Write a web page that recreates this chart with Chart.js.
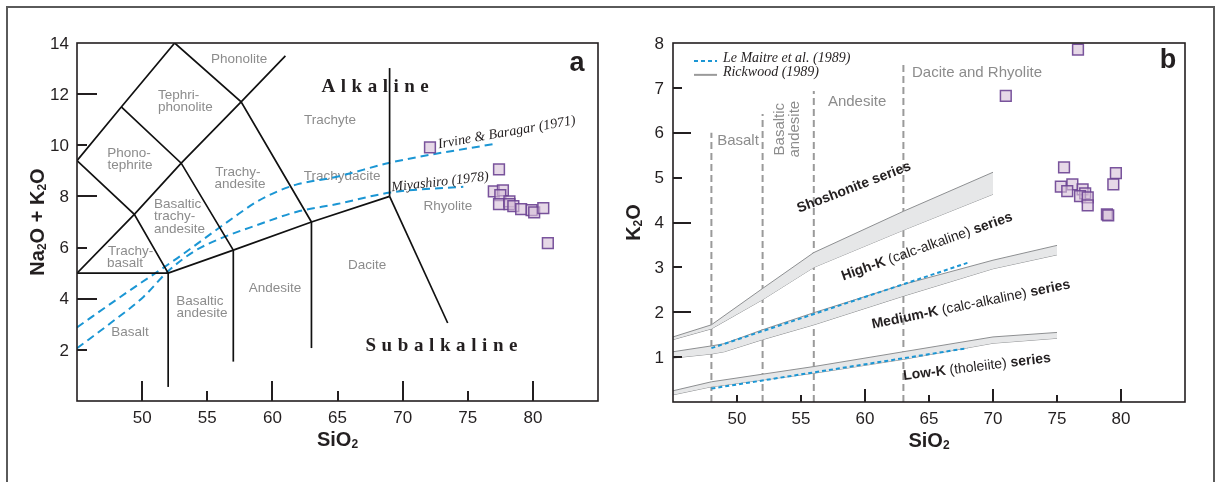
<!DOCTYPE html>
<html>
<head>
<meta charset="utf-8">
<script src="https://cdn.jsdelivr.net/npm/chart.js@4.4.1/dist/chart.umd.min.js"></script>
<style>
  body { margin: 0; background: #fff; }
  #frame { position: absolute; left: 6px; top: 6px; width: 1209px; height: 530px; border: 2px solid #5a5a5a; box-sizing: border-box; }
  #tas { position: absolute; left: 0; top: 0; }
  #kplot { position: absolute; left: 608px; top: 0; }
</style>
</head>
<body>
<div id="frame"></div>
<canvas id="tas" width="608" height="482"></canvas>
<canvas id="kplot" width="609" height="482"></canvas>
<script>
// ---------------- panel a : TAS diagram ----------------
const tasSiO2 = [72.1, 77.4, 77.0, 77.7, 77.5, 77.4, 78.2, 78.2, 78.5, 79.1, 79.9, 80.1, 80.8, 81.15];
const tasAlk  = [9.92, 9.06, 8.20, 8.24, 8.05, 7.70, 7.81, 7.70, 7.62, 7.50, 7.46, 7.38, 7.54, 6.17];

// Irvine & Baragar (1971) and Miyashiro (1978) dividing curves
const ibSiO2 = [45, 48.84, 52.68, 57.03, 58.82, 60.36, 61.89, 64.96, 69.03, 76.96];
const ibAlk  = [2.88, 4.25, 5.58, 7.18, 7.80, 8.19, 8.47, 8.77, 9.32, 10.05];
const miySiO2 = [45, 47.56, 50.12, 51.96, 53.96, 55.75, 58.82, 61.89, 64.96, 69.03, 74.66];
const miyAlk  = [2.06, 3.04, 4.08, 5.06, 5.84, 6.30, 6.88, 7.40, 7.70, 8.15, 8.38];

// field boundaries (Le Bas et al. 1986), each one a polyline [SiO2, Na2O+K2O]
const tasBoundaries = [
  [[45, 9.4], [48.4, 11.5], [52.5, 14]],
  [[52.5, 14], [57.6, 11.7], [63, 7]],
  [[45, 5], [49.4, 7.3], [53, 9.3], [57.6, 11.7], [61, 13.5]],
  [[45, 9.4], [49.4, 7.3], [52, 5]],
  [[48.4, 11.5], [53, 9.3], [57, 5.9]],
  [[45, 5], [52, 5], [57, 5.9], [63, 7], [69, 8]],
  [[52, 0.55], [52, 5]],
  [[57, 1.54], [57, 5.9]],
  [[63, 2.07], [63, 7]],
  [[69, 8], [69, 13.02]],
  [[69, 8], [73.46, 3.05]]
];
const tasXTicks = [50, 55, 60, 65, 70, 75, 80];
const tasYTicks = [2, 4, 6, 8, 10, 12, 14];

// ---------------- panel b : K2O vs SiO2 ----------------
const kSiO2 = [76.64, 71.0, 75.55, 79.6, 79.4, 75.3, 76.2, 75.8, 77.0, 77.2, 76.8, 77.4, 77.4, 78.9, 79.0];
const kK2O  = [7.85, 6.82, 5.23, 5.10, 4.85, 4.80, 4.85, 4.70, 4.74, 4.65, 4.59, 4.56, 4.38, 4.18, 4.16];

// Rickwood (1989) boundary bands
const shoX     = [45, 48, 52, 56, 63, 70];
const shoUpper = [1.45, 1.72, 2.53, 3.33, 4.25, 5.12];
const shoLower = [1.39, 1.63, 2.28, 3.00, 3.83, 4.63];
const hkX      = [45, 48, 49, 52, 56, 63, 70, 75];
const hkUpper  = [1.12, 1.25, 1.30, 1.61, 1.99, 2.62, 3.16, 3.49];
const hkLower  = [0.98, 1.07, 1.12, 1.39, 1.72, 2.36, 2.97, 3.28];
const lkX      = [45, 48, 56, 63, 70, 75];
const lkUpper  = [0.25, 0.45, 0.79, 1.12, 1.45, 1.55];
const lkLower  = [0.16, 0.34, 0.64, 0.95, 1.31, 1.42];

// Le Maitre et al. (1989) lines
const lmX    = [48, 68];
const lmHigh = [1.2, 3.1];
const lmLow  = [0.3, 1.2];

// rock name dividers
const fieldX   = [48, 52, 56, 63];
const fieldTop = [6.0, 6.42, 6.93, 7.6];

const kXTicks = [50, 55, 60, 65, 70, 75, 80];
const kYTicks = [1, 2, 3, 4, 5, 6, 7, 8];


const SANS = '"Liberation Sans", Arial, sans-serif';
const SERIF = '"Liberation Serif", "Times New Roman", serif';
const GREY_TXT = '#8c8c8c';
const PT_FILL = 'rgba(214, 192, 216, 0.62)';
const PT_LINE = 'rgba(108, 66, 146, 0.9)';
const BLUE = '#1b96d4';

function toPts(xs, ys) {
  return xs.map((x, i) => ({ x: x, y: ys[i] }));
}

function lineSet(points, color, width, dash, extra) {
  return Object.assign({
    type: 'line',
    data: points,
    showLine: true,
    borderColor: color,
    borderWidth: width,
    borderDash: dash || [],
    pointRadius: 0,
    fill: false,
    tension: 0
  }, extra || {});
}

// draw a text made of pieces (font changes, subscripts), rotated around x,y
function drawRich(ctx, parts, x, y, rot, align, color) {
  ctx.save();
  ctx.translate(x, y);
  ctx.rotate((rot || 0) * Math.PI / 180);
  ctx.fillStyle = color || '#231f20';
  ctx.textBaseline = 'middle';
  ctx.textAlign = 'left';
  let total = 0;
  parts.forEach(p => { ctx.font = p[1]; total += ctx.measureText(p[0]).width; });
  let cx = align === 'left' ? 0 : (align === 'right' ? -total : -total / 2);
  parts.forEach(p => {
    ctx.font = p[1];
    ctx.fillText(p[0], cx, p[2] || 0);
    cx += ctx.measureText(p[0]).width;
  });
  ctx.restore();
}

// plugin drawing the frame, the inner ticks, tick labels, titles and labels
function decorPlugin(cfg) {
  return {
    id: 'decor_' + cfg.name,
    beforeDatasetsDraw(chart) {
      const ctx = chart.ctx, xs = chart.scales.x, ys = chart.scales.y;
      cfg.fieldLabels.forEach(l => {
        const px = xs.getPixelForValue(l.x), py = ys.getPixelForValue(l.y);
        drawRich(ctx, [[l.text, l.font || cfg.fieldFont]], px, py, l.rot || 0, l.align || 'center', GREY_TXT);
      });
    },
    afterDatasetsDraw(chart) {
      const ctx = chart.ctx, a = chart.chartArea;
      const xs = chart.scales.x, ys = chart.scales.y;
      ctx.save();
      ctx.strokeStyle = '#231f20';
      ctx.lineWidth = 1.6;
      ctx.strokeRect(a.left, a.top, a.right - a.left, a.bottom - a.top);

      // inner ticks
      ctx.lineWidth = 2;
      ctx.beginPath();
      cfg.xTicks.forEach(v => {
        const px = Math.round(xs.getPixelForValue(v));
        ctx.moveTo(px, a.bottom);
        ctx.lineTo(px, a.bottom - cfg.xTickLen(v));
      });
      cfg.yTicks.forEach(v => {
        const py = Math.round(ys.getPixelForValue(v));
        const len = cfg.yTickLen(v);
        if (len > 0) {
          ctx.moveTo(a.left, py);
          ctx.lineTo(a.left + len, py);
        }
      });
      ctx.stroke();

      // tick labels
      ctx.fillStyle = '#231f20';
      ctx.font = '17px ' + SANS;
      ctx.textAlign = 'center';
      ctx.textBaseline = 'middle';
      cfg.xTicks.forEach(v => ctx.fillText(String(v), xs.getPixelForValue(v), a.bottom + 17));
      ctx.textAlign = 'right';
      cfg.yTicks.forEach(v => ctx.fillText(String(v), a.left - cfg.yLabelGap, ys.getPixelForValue(v) + 1));
      ctx.restore();

      // axis titles
      const bold = 'bold 20px ' + SANS, sub = 'bold 12px ' + SANS;
      drawRich(ctx, [['SiO', bold], ['2', sub, 5]], (a.left + a.right) / 2, a.bottom + 39, 0, 'center');
      drawRich(ctx, cfg.yTitle.map(p => [p[0], p[1] ? sub : bold, p[1] ? 5 : 0]),
        cfg.yTitleX, (a.top + a.bottom) / 2, -90, 'center');

      // annotations on top of the lines
      cfg.notes.forEach(n => {
        ctx.save();
        ctx.letterSpacing = n.spacing || '0px';
        drawRich(ctx, n.parts, xs.getPixelForValue(n.x), ys.getPixelForValue(n.y), n.rot || 0, n.align || 'center', n.color);
        ctx.restore();
      });
      if (cfg.extra) cfg.extra(chart);
    }
  };
}

function baseOptions(padding, ymax) {
  return {
    responsive: false,
    animation: false,
    events: [],
    layout: { padding: padding },
    plugins: { legend: { display: false }, tooltip: { enabled: false } },
    scales: {
      x: { type: 'linear', min: 45, max: 85, display: false },
      y: { type: 'linear', min: 0, max: ymax, display: false }
    }
  };
}

function pointSet(xs, ys) {
  return {
    type: 'scatter',
    data: toPts(xs, ys),
    pointStyle: 'rect',
    pointRadius: 7.6,
    backgroundColor: PT_FILL,
    borderColor: PT_LINE,
    borderWidth: 1.5,
    clip: false
  };
}

// ---------- build panel a ----------
const tasDatasets = [pointSet(tasSiO2, tasAlk)];
tasBoundaries.forEach(b => {
  tasDatasets.push(lineSet(b.map(p => ({ x: p[0], y: p[1] })), '#111', 1.7));
});
tasDatasets.push(lineSet(toPts(ibSiO2, ibAlk), BLUE, 2, [8, 5], { cubicInterpolationMode: 'monotone' }));
tasDatasets.push(lineSet(toPts(miySiO2, miyAlk), BLUE, 2, [8, 5], { cubicInterpolationMode: 'monotone' }));

const f13 = '13.5px ' + SANS;
const tasCfg = {
  name: 'tas',
  xTicks: tasXTicks,
  yTicks: tasYTicks,
  xTickLen: v => (v % 10 === 0 ? 20 : 10),
  yTickLen: v => (v === 14 ? 0 : (v % 4 === 0 ? 20 : 10)),
  yLabelGap: 8,
  yTitleX: 38,
  yTitle: [['Na', 0], ['2', 1], ['O + K', 0], ['2', 1], ['O', 0]],
  fieldFont: f13,
  fieldLabels: [
    { text: 'Phonolite', x: 57.44, y: 13.37 },
    { text: 'Tephri-', x: 51.22, y: 11.95, align: 'left' },
    { text: 'phonolite', x: 51.22, y: 11.49, align: 'left' },
    { text: 'Phono-', x: 48.99, y: 9.68 },
    { text: 'tephrite', x: 49.07, y: 9.20 },
    { text: 'Trachy-', x: 57.36, y: 8.94 },
    { text: 'andesite', x: 57.51, y: 8.46 },
    { text: 'Basaltic', x: 50.91, y: 7.69, align: 'left' },
    { text: 'trachy-', x: 50.91, y: 7.21, align: 'left' },
    { text: 'andesite', x: 50.91, y: 6.73, align: 'left' },
    { text: 'Trachy-', x: 47.38, y: 5.85, align: 'left' },
    { text: 'basalt', x: 47.30, y: 5.39, align: 'left' },
    { text: 'Basalt', x: 49.07, y: 2.70 },
    { text: 'Basaltic', x: 54.44, y: 3.89 },
    { text: 'andesite', x: 54.60, y: 3.43 },
    { text: 'Andesite', x: 60.20, y: 4.42 },
    { text: 'Trachyte', x: 64.42, y: 10.99 },
    { text: 'Trachydacite', x: 65.35, y: 8.80 },
    { text: 'Rhyolite', x: 73.48, y: 7.63 },
    { text: 'Dacite', x: 67.27, y: 5.32 }
  ],
  notes: [
    { parts: [['Alkaline', 'bold 19px ' + SERIF]], x: 68.1, y: 12.28, spacing: '5.5px' },
    { parts: [['Subalkaline', 'bold 19px ' + SERIF]], x: 73.2, y: 2.15, spacing: '5.6px' },
    { parts: [['a', 'bold 27px ' + SANS]], x: 83.39, y: 13.2 },
    { parts: [['Irvine & Baragar (1971)', 'italic 14px ' + SERIF]], x: 78.0, y: 10.5, rot: -10 },
    { parts: [['Miyashiro (1978)', 'italic 14px ' + SERIF]], x: 72.87, y: 8.56, rot: -6.5 }
  ]
};

new Chart(document.getElementById('tas').getContext('2d'), {
  type: 'scatter',
  data: { datasets: tasDatasets },
  options: baseOptions({ left: 77, top: 43, right: 10, bottom: 81 }, 14),
  plugins: [decorPlugin(tasCfg)]
});

// ---------- build panel b ----------
const BAND_FILL = '#e6e7e8';
const BAND_LINE = '#8d8f91';
const kDatasets = [pointSet(kSiO2, kK2O)];
kDatasets.push(lineSet(toPts(lmX, lmHigh), BLUE, 2, [4, 3]));
kDatasets.push(lineSet(toPts(lmX, lmLow), BLUE, 2, [4, 3]));
// bands: upper line fills down to the lower line right after it
[[shoX, shoUpper, shoLower], [hkX, hkUpper, hkLower], [lkX, lkUpper, lkLower]].forEach(b => {
  kDatasets.push(lineSet(toPts(b[0], b[1]), BAND_LINE, 1, [], { fill: '+1', backgroundColor: BAND_FILL }));
  kDatasets.push(lineSet(toPts(b[0], b[2]), BAND_LINE, 1));
});
fieldX.forEach((x, i) => {
  kDatasets.push(lineSet([{ x: x, y: 0 }, { x: x, y: fieldTop[i] }], '#9a9a9a', 2, [7, 4]));
});

const b14 = 'bold 14px ' + SANS, n14 = '14px ' + SANS;
const kCfg = {
  name: 'k',
  xTicks: kXTicks,
  yTicks: kYTicks,
  xTickLen: v => (v % 10 === 0 && v !== 50 ? 13 : 7),
  yTickLen: v => (v === 8 ? 0 : (v % 2 === 0 ? 18 : 9)),
  yLabelGap: 9,
  yTitleX: 26,
  yTitle: [['K', 0], ['2', 1], ['O', 0]],
  fieldFont: '15px ' + SANS,
  fieldLabels: [
    { text: 'Basalt', x: 50.08, y: 5.83 },
    { text: 'Basaltic', x: 53.36, y: 6.08, rot: -90 },
    { text: 'andesite', x: 54.53, y: 6.08, rot: -90 },
    { text: 'Andesite', x: 59.38, y: 6.68 },
    { text: 'Dacite and Rhyolite', x: 68.75, y: 7.33 }
  ],
  notes: [
    { parts: [['b', 'bold 27px ' + SANS]], x: 83.67, y: 7.6 },
    { parts: [['Shoshonite series', b14]], x: 59.14, y: 4.78, rot: -21 },
    { parts: [['High-K ', b14], ['(calc-alkaline) ', n14], ['series', b14]], x: 64.84, y: 3.46, rot: -19.5 },
    { parts: [['Medium-K ', b14], ['(calc-alkaline) ', n14], ['series', b14]], x: 68.28, y: 2.17, rot: -11.5 },
    { parts: [['Low-K ', b14], ['(tholeiite) ', n14], ['series', b14]], x: 68.75, y: 0.78, rot: -7 },
    { parts: [['Le Maitre et al. (1989)', 'italic 14px ' + SERIF]], x: 48.9, y: 7.65, align: 'left' },
    { parts: [['Rickwood (1989)', 'italic 14px ' + SERIF]], x: 48.9, y: 7.35, align: 'left' }
  ],
  // legend line samples
  extra: function (chart) {
    const ctx = chart.ctx, xs = chart.scales.x, ys = chart.scales.y;
    const x0 = xs.getPixelForValue(46.64), x1 = xs.getPixelForValue(48.44);
    ctx.save();
    ctx.lineWidth = 2;
    ctx.strokeStyle = BLUE;
    ctx.setLineDash([4, 3]);
    ctx.beginPath();
    ctx.moveTo(x0, ys.getPixelForValue(7.60));
    ctx.lineTo(x1, ys.getPixelForValue(7.60));
    ctx.stroke();
    ctx.setLineDash([]);
    ctx.strokeStyle = '#9a9a9a';
    ctx.beginPath();
    ctx.moveTo(x0, ys.getPixelForValue(7.29));
    ctx.lineTo(x1, ys.getPixelForValue(7.29));
    ctx.stroke();
    ctx.restore();
  }
};

new Chart(document.getElementById('kplot').getContext('2d'), {
  type: 'scatter',
  data: { datasets: kDatasets },
  options: baseOptions({ left: 65, top: 43, right: 32, bottom: 80 }, 8),
  plugins: [decorPlugin(kCfg)]
});
</script>
</body>
</html>
